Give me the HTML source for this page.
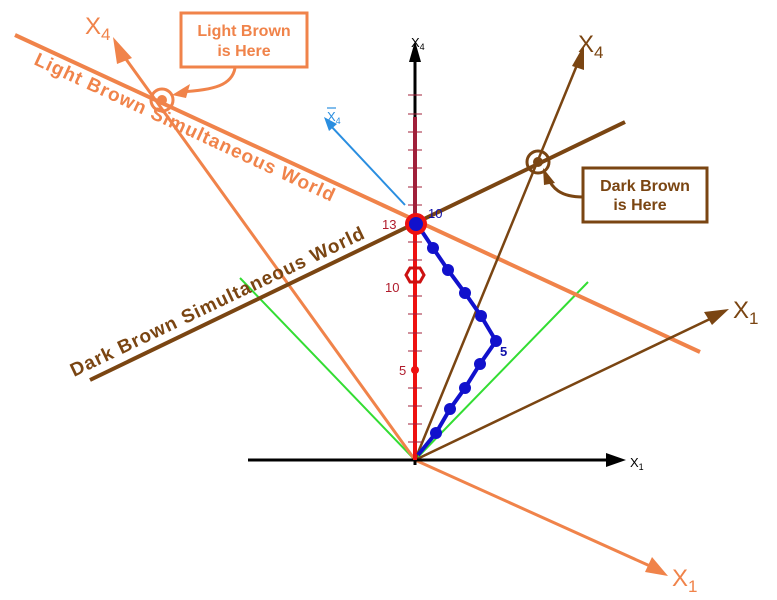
<!DOCTYPE html>
<html><head><meta charset="utf-8"><style>
html,body{margin:0;padding:0;background:#fff}
svg{display:block;font-family:"Liberation Sans",Arial,sans-serif}
</style></head><body>
<svg width="777" height="600" viewBox="0 0 777 600" xmlns="http://www.w3.org/2000/svg">
<rect width="777" height="600" fill="#fff"/>
<line x1="415" y1="460" x2="240" y2="278" stroke="#33dd33" stroke-width="2"/>
<line x1="415" y1="460" x2="588" y2="282" stroke="#33dd33" stroke-width="2"/>
<g stroke="#f0834a" fill="#f0834a">
<line x1="15" y1="35" x2="700" y2="352" stroke-width="4"/>
<line x1="415" y1="460" x2="123" y2="55" stroke-width="3"/>
<polygon points="113,37 132,58 117,64" stroke="none"/>
<line x1="415" y1="460" x2="650" y2="566" stroke-width="3"/>
<polygon points="668,576 645,572 652,557" stroke="none"/>
<circle cx="162" cy="100" r="11" fill="none" stroke-width="3"/>
<circle cx="162" cy="100" r="5" stroke="none"/>
<rect x="181" y="13" width="126" height="54" fill="#fff" stroke-width="3"/>
<path d="M235,68 C232,85 215,90 180,92" fill="none" stroke-width="3"/>
<polygon points="172,95 190,84 186,98" stroke="none"/>
</g>
<text x="244" y="36" font-size="16" font-weight="bold" fill="#f0834a" text-anchor="middle">Light Brown</text>
<text x="244" y="56" font-size="16" font-weight="bold" fill="#f0834a" text-anchor="middle">is Here</text>
<text x="33" y="64" font-size="19" font-weight="bold" letter-spacing="1" fill="#f0834a" transform="rotate(24.8 33 64)">Light Brown Simultaneous World</text>
<text x="85" y="34" font-size="24" fill="#f0834a">X<tspan font-size="17" dy="6">4</tspan></text>
<text x="672" y="586" font-size="24" fill="#f0834a">X<tspan font-size="17" dy="6">1</tspan></text>
<g stroke="#7a4512" fill="#7a4512">
<line x1="90" y1="380" x2="625" y2="122" stroke-width="4"/>
<line x1="415" y1="460" x2="577" y2="65" stroke-width="2.5"/>
<polygon points="584,45 584,70 572,66" stroke="none"/>
<line x1="415" y1="460" x2="712" y2="318" stroke-width="2.5"/>
<polygon points="729,309 712,325 704,312" stroke="none"/>
<circle cx="538" cy="162" r="11" fill="none" stroke-width="3"/>
<circle cx="538" cy="162" r="5" stroke="none"/>
<rect x="583" y="168" width="124" height="54" fill="#fff" stroke-width="3"/>
<path d="M583,197 C560,197 552,188 547,176" fill="none" stroke-width="3"/>
<polygon points="543,168 555,183 544,185" stroke="none"/>
</g>
<text x="645" y="191" font-size="16" font-weight="bold" fill="#7a4512" text-anchor="middle">Dark Brown</text>
<text x="640" y="210" font-size="16" font-weight="bold" fill="#7a4512" text-anchor="middle">is Here</text>
<text x="74" y="377" font-size="19" font-weight="bold" letter-spacing="1" fill="#7a4512" transform="rotate(-25.5 74 377)">Dark Brown Simultaneous World</text>
<text x="578" y="52" font-size="24" fill="#7a4512">X<tspan font-size="17" dy="6">4</tspan></text>
<text x="733" y="318" font-size="24" fill="#7a4512">X<tspan font-size="17" dy="6">1</tspan></text>
<line x1="405" y1="205" x2="330" y2="125" stroke="#2a8ee0" stroke-width="2"/>
<polygon points="324,117 337,124 329,131" fill="#2a8ee0"/>
<text x="327" y="121" font-size="13" fill="#2a8ee0">X<tspan font-size="9" dy="3">4</tspan></text>
<line x1="327" y1="108" x2="336" y2="108" stroke="#2a8ee0" stroke-width="1.2"/>
<line x1="248" y1="460" x2="612" y2="460" stroke="#000" stroke-width="3"/>
<polygon points="626,460 606,453 606,467" fill="#000"/>
<text x="630" y="467" font-size="13">X<tspan font-size="9" dy="3">1</tspan></text>
<line x1="415" y1="465" x2="415" y2="50" stroke="#000" stroke-width="3"/>
<polygon points="415,41 409,62 421,62" fill="#000"/>
<text x="411" y="47" font-size="13">X<tspan font-size="9" dy="3">4</tspan></text>
<line x1="415" y1="460" x2="415" y2="117" stroke="#a0203a" stroke-width="4"/>
<line x1="415" y1="460" x2="415" y2="215" stroke="#ee1111" stroke-width="4"/>
<g stroke="#a0203a" stroke-width="1">
<line x1="408" y1="95" x2="422" y2="95"/><line x1="408" y1="114" x2="422" y2="114"/>
<line x1="408" y1="132" x2="422" y2="132"/><line x1="408" y1="150" x2="422" y2="150"/>
<line x1="408" y1="168" x2="422" y2="168"/><line x1="408" y1="187" x2="422" y2="187"/>
<line x1="408" y1="205" x2="422" y2="205"/><line x1="408" y1="242" x2="422" y2="242"/>
<line x1="408" y1="260" x2="422" y2="260"/><line x1="408" y1="296" x2="422" y2="296"/>
<line x1="408" y1="314" x2="422" y2="314"/><line x1="408" y1="333" x2="422" y2="333"/>
<line x1="408" y1="351" x2="422" y2="351"/><line x1="408" y1="388" x2="422" y2="388"/>
<line x1="408" y1="406" x2="422" y2="406"/><line x1="408" y1="424" x2="422" y2="424"/>
<line x1="408" y1="442" x2="422" y2="442"/>
</g>
<circle cx="415" cy="370" r="4" fill="#ee1111"/>
<polygon points="406,275 410,268 420,268 424,275 420,282 410,282" fill="none" stroke="#cc1111" stroke-width="3"/>
<text x="399" y="375" font-size="13" fill="#b01c2c">5</text>
<text x="385" y="292" font-size="13" fill="#b01c2c">10</text>
<text x="382" y="229" font-size="13" fill="#b01c2c">13</text>
<polyline points="417,224 433,248 448,270 465,293 481,316 496,341 480,364 465,388 450,409 436,433 418,455" fill="none" stroke="#1111cc" stroke-width="4"/>
<g fill="#1111cc">
<circle cx="433" cy="248" r="6"/><circle cx="448" cy="270" r="6"/><circle cx="465" cy="293" r="6"/>
<circle cx="481" cy="316" r="6"/><circle cx="496" cy="341" r="6"/><circle cx="480" cy="364" r="6"/>
<circle cx="465" cy="388" r="6"/><circle cx="450" cy="409" r="6"/><circle cx="436" cy="433" r="6"/>
</g>
<circle cx="416" cy="224" r="9" fill="#1111cc" stroke="#ee1111" stroke-width="4"/>
<text x="428" y="218" font-size="13" fill="#1111aa">10</text>
<text x="500" y="356" font-size="13" fill="#1111aa" font-weight="bold">5</text>
</svg>
</body></html>
